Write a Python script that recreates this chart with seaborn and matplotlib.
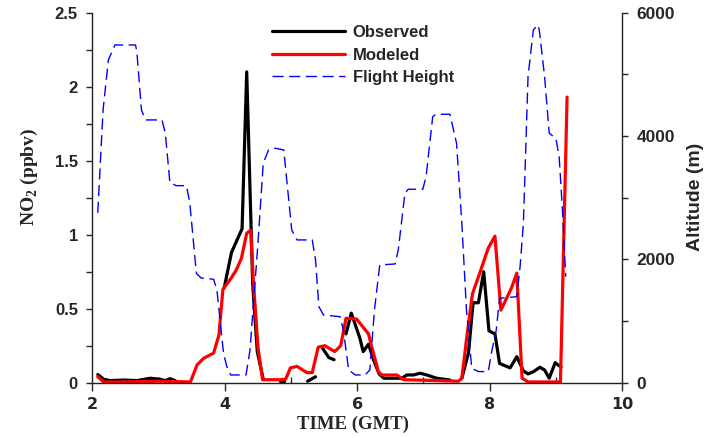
import numpy as np
import pandas as pd
import matplotlib
matplotlib.use("Agg")
import matplotlib.pyplot as plt
from matplotlib.ticker import MultipleLocator, FuncFormatter
from matplotlib.lines import Line2D
import seaborn as sns

# observed NO2 (ppbv), nan marks a gap in the record
obs_time = [2.08, 2.17, 2.27, 2.47, 2.67, 2.87, 3.02, 3.10, 3.17, 3.25, np.nan,
            3.99, 4.10, 4.26, 4.33, 4.42, 4.49, 4.58, np.nan,
            4.84, 4.90, np.nan,
            5.25, 5.37, np.nan,
            5.48, 5.57, 5.65, np.nan,
            5.83, 5.91, 6.04, 6.09, 6.17, 6.25, 6.33, 6.40, 6.67, 6.75, 6.85,
            6.95, 7.05, 7.20, 7.40, np.nan,
            7.58, 7.68, 7.75, 7.83, 7.91, 7.99, 8.08, 8.15, 8.31, 8.41, 8.51,
            8.58, 8.66, 8.76, 8.83, 8.90, 8.99, 9.08]
obs_no2 = [0.055, 0.023, 0.014, 0.018, 0.014, 0.03, 0.023, 0.014, 0.027, 0.014, np.nan,
           0.64, 0.88, 1.04, 2.10, 0.67, 0.21, 0.023, np.nan,
           0.012, 0.012, np.nan,
           0.01, 0.04, np.nan,
           0.23, 0.17, 0.155, np.nan,
           0.33, 0.47, 0.30, 0.21, 0.26, 0.15, 0.06, 0.03, 0.03, 0.052, 0.052,
           0.064, 0.052, 0.03, 0.018, np.nan,
           0.03, 0.20, 0.54, 0.54, 0.75, 0.35, 0.33, 0.13, 0.10, 0.176, 0.08,
           0.059, 0.074, 0.104, 0.086, 0.03, 0.135, 0.104]

# modeled NO2 (ppbv)
mod_time = [2.08, 2.17, 2.5, 3.0, 3.48, 3.58, 3.68, 3.83, 3.91, 3.97, 4.10, 4.17,
            4.25, 4.33, 4.39, 4.43, 4.50, 4.57, 4.84, 4.92, 4.99, 5.09, 5.24,
            5.32, 5.41, 5.51, 5.66, 5.75, 5.83, 5.99, 6.17, 6.22, 6.32, 6.37,
            6.60, 6.70, 7.53, 7.58, 7.65, 7.74, 7.85, 7.98, 8.08, 8.17, 8.33,
            8.41, 8.49, 8.58, 9.07, 9.17]
mod_no2 = [0.04, 0.005, 0.005, 0.01, 0.005, 0.12, 0.165, 0.2, 0.32, 0.63, 0.71, 0.76,
           0.84, 1.01, 1.03, 0.69, 0.24, 0.02, 0.02, 0.025, 0.10, 0.11, 0.068,
           0.068, 0.24, 0.25, 0.21, 0.25, 0.435, 0.43, 0.33, 0.24, 0.074, 0.052,
           0.052, 0.02, 0.01, 0.03, 0.29, 0.60, 0.74, 0.91, 0.99, 0.49, 0.64,
           0.74, 0.03, 0.005, 0.005, 1.93]

# flight altitude (m)
alt_time = [2.08, 2.16, 2.24, 2.34, 2.65, 2.67, 2.74, 2.80, 3.05, 3.10, 3.17, 3.27,
            3.42, 3.47, 3.57, 3.64, 3.83, 3.88, 3.98, 4.03, 4.09, 4.32, 4.38,
            4.50, 4.58, 4.66, 4.76, 4.89, 4.94, 5.01, 5.09, 5.32, 5.37, 5.42,
            5.49, 5.74, 5.79, 5.87, 5.97, 6.12, 6.19, 6.26, 6.34, 6.57, 6.62,
            6.72, 6.77, 6.99, 7.04, 7.14, 7.19, 7.40, 7.50, 7.58, 7.65, 7.73,
            7.83, 7.98, 8.03, 8.10, 8.15, 8.41, 8.46, 8.51, 8.58, 8.66, 8.73,
            8.75, 8.83, 8.90, 9.00, 9.05, 9.10, 9.15]
alt_m = [2755, 4423, 5234, 5477, 5477, 5369, 4423, 4261, 4261, 4050, 3240, 3195,
         3195, 2915, 1774, 1698, 1677, 1504, 477, 260, 125, 125, 530,
         2261, 3559, 3775, 3802, 3775, 3234, 2477, 2315, 2315, 1990, 1233,
         1098, 1070, 855, 206, 125, 125, 206, 1180, 1909, 1925, 2152,
         3072, 3137, 3137, 3342, 4315, 4353, 4353, 3883, 2585, 1180, 233,
         180, 180, 500, 855, 1369, 1395, 1882, 2585, 4963, 5721, 5802,
         5721, 4963, 4045, 3964, 3666, 2801, 1719]

obs = pd.DataFrame({"time": obs_time, "no2": obs_no2})
obs["seg"] = obs["no2"].isna().cumsum()
obs = obs.dropna()
mod = pd.DataFrame({"time": mod_time, "no2": mod_no2})
alt = pd.DataFrame({"time": alt_time, "alt": alt_m})

sns.set_style("ticks")
plt.rcParams["font.family"] = ["Liberation Sans", "DejaVu Sans"]
plt.rcParams["font.weight"] = "bold"
plt.rcParams["mathtext.fontset"] = "custom"
plt.rcParams["mathtext.rm"] = "Liberation Serif:bold"

fig = plt.figure(figsize=(7.13, 4.38), dpi=100)
ax = fig.add_axes([0.1297, 0.1263, 0.7427, 0.8447])
ax2 = ax.twinx()

sns.lineplot(data=obs, x="time", y="no2", units="seg", estimator=None, sort=False,
             color="black", lw=2.3, ax=ax, legend=False)
sns.lineplot(data=mod, x="time", y="no2", sort=False, color="red", lw=2.3,
             ax=ax, legend=False)
sns.lineplot(data=alt, x="time", y="alt", sort=False, color="blue", lw=1.0,
             ax=ax2, legend=False)
for ln in ax2.get_lines():
    ln.set_linestyle((0, (8, 4)))

ax.set_xlim(2, 10)
ax.set_ylim(0, 2.5)
ax2.set_ylim(0, 6000)

ax.xaxis.set_major_locator(MultipleLocator(2))
ax.xaxis.set_minor_locator(MultipleLocator(1))
ax.yaxis.set_major_locator(MultipleLocator(0.5))
ax.yaxis.set_minor_locator(MultipleLocator(0.25))
ax2.yaxis.set_major_locator(MultipleLocator(2000))
ax2.yaxis.set_minor_locator(MultipleLocator(1000))
ax.yaxis.set_major_formatter(FuncFormatter(lambda v, p: f"{v:g}"))

ax.tick_params(axis="x", which="major", direction="out", length=6, width=1,
               pad=4, labelsize=11.5, labelfontfamily="DejaVu Sans")
ax.tick_params(axis="x", which="minor", direction="in", length=4, width=1)
ax.tick_params(axis="y", which="both", direction="out", length=4.5, width=1,
               pad=6, labelsize=12)
ax2.tick_params(axis="y", which="both", direction="out", length=4.5, width=1,
                pad=6, labelsize=12.5)

for a in (ax, ax2):
    a.spines["top"].set_visible(False)
    for s in a.spines.values():
        s.set_linewidth(1)
        s.set_color("#222222")
ax.spines["right"].set_visible(False)
ax2.spines["left"].set_visible(False)
ax2.spines["bottom"].set_visible(False)

ax.set_xlabel("TIME (GMT)", fontfamily="Liberation Serif", fontweight="bold",
              fontsize=13.5)
ax.xaxis.set_label_coords(0.492, -0.09)
ax.set_ylabel("NO$_2$ (ppbv)", fontfamily="Liberation Serif", fontweight="bold",
              fontsize=14)
ax.yaxis.set_label_coords(-0.099, 0.556)
ax2.set_ylabel("Altitude (m)", fontweight="bold", fontsize=14)
ax2.yaxis.set_label_coords(1.122, 0.503)

handles = [Line2D([], [], color="black", lw=2.3),
           Line2D([], [], color="red", lw=2.3),
           Line2D([], [], color="blue", lw=1.0, linestyle=(0, (8, 4)))]
ax2.legend(handles, ["Observed", "Modeled", "Flight Height"], loc="upper left",
           bbox_to_anchor=(0.339, 0.966), frameon=False, borderpad=0,
           borderaxespad=0, handlelength=4.4, handletextpad=0.45,
           labelspacing=0.45, prop={"weight": "bold", "size": 12})

fig.savefig("out.png", dpi=100)
